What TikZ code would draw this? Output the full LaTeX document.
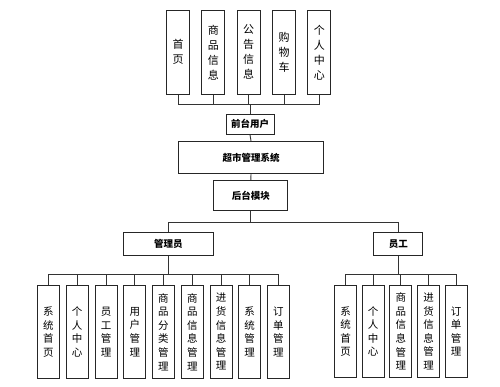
\documentclass[tikz,border=0pt]{standalone}
\usepackage{fontspec}
\setmainfont{Noto Sans CJK SC}
\begin{document}
\begin{tikzpicture}[x=1pt,y=-1pt,
  line/.style={draw=black!80,line width=0.9pt},
  box/.style={draw=black!85,line width=1pt,fill=white,inner sep=0pt,anchor=center},
  topbox/.style={box,minimum width=23pt,minimum height=83.5pt,align=center,font=\fontsize{11}{15}\selectfont},
  midbox/.style={box,font=\fontsize{9.5}{11}\selectfont\bfseries},
  botbox/.style={box,minimum width=22pt,minimum height=92.5pt,align=center,font=\fontsize{10.5}{13.6}\selectfont}]
\useasboundingbox[fill=white] (0,0) rectangle (500,387);
% top boxes
\node[topbox] (t1) at (178,52.3) {首\\页};
\node[topbox] (t2) at (213.3,52.3) {商\\品\\信\\息};
\node[topbox] (t3) at (248.7,52.3) {公\\告\\信\\息};
\node[topbox] (t4) at (284,52.3) {购\\物\\车};
\node[topbox] (t5) at (319.3,52.3) {个\\人\\中\\心};
% middle
\node[midbox,minimum width=48pt,minimum height=20pt] (qt) at (250,124.3) {前台用户};
\node[midbox,minimum width=145.4pt,minimum height=32.4pt] (cs) at (251,157.5) {超市管理系统};
\node[midbox,minimum width=73.7pt,minimum height=30.4pt] (ht) at (250.8,195.5) {后台模块};
\node[midbox,minimum width=90pt,minimum height=23.3pt] (gly) at (168.3,244.3) {管理员};
\node[midbox,minimum width=48.7pt,minimum height=22.3pt] (yg) at (398.3,244) {员工};
% left children
\node[botbox] (a1) at (48.3,331.9) {系\\统\\首\\页};
\node[botbox] (a2) at (77.2,331.9) {个\\人\\中\\心};
\node[botbox] (a3) at (106.2,331.9) {员\\工\\管\\理};
\node[botbox] (a4) at (134.9,331.9) {用\\户\\管\\理};
\node[botbox] (a5) at (163.3,331.9) {商\\品\\分\\类\\管\\理};
\node[botbox] (a6) at (192.3,331.9) {商\\品\\信\\息\\管\\理};
\node[botbox] (a7) at (221.2,331.9) {进\\货\\信\\息\\管\\理};
\node[botbox] (a8) at (249.7,331.9) {系\\统\\管\\理};
\node[botbox] (a9) at (278.3,331.9) {订\\单\\管\\理};
% right children
\node[botbox] (b1) at (345.5,331.5) {系\\统\\首\\页};
\node[botbox] (b2) at (373.2,331.5) {个\\人\\中\\心};
\node[botbox] (b3) at (400.8,331.5) {商\\品\\信\\息\\管\\理};
\node[botbox] (b4) at (428.7,331.5) {进\\货\\信\\息\\管\\理};
\node[botbox] (b5) at (456,331.5) {订\\单\\管\\理};
% buses
\coordinate (topbus) at (250,104.3);
\coordinate (hbus) at (250.8,222);
\coordinate (lbus) at (168.3,274);
\coordinate (rbus) at (398.3,274);
\foreach \i in {1,...,5} \draw[line] (t\i.south) |- (topbus);
\draw[line] (topbus) -- (qt.north);
\draw[line] (qt.south) -- (cs.north);
\draw[line] (cs.south) -- (ht.north);
\draw[line] (ht.south) -- (hbus);
\draw[line] (gly.north) |- (hbus);
\draw[line] (yg.north) |- (hbus);
\draw[line] (gly.south) -- (lbus);
\draw[line] (yg.south) -- (rbus);
\foreach \i in {1,...,9} \draw[line] (a\i.north) |- (lbus);
\foreach \i in {1,...,5} \draw[line] (b\i.north) |- (rbus);
\end{tikzpicture}
\end{document}
